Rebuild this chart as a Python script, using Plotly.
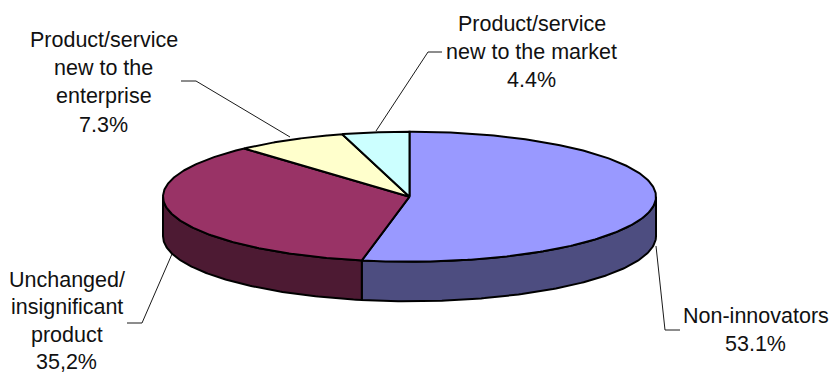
import numpy as np
import plotly.graph_objects as go

# Innovation categories, clockwise from twelve o'clock
categories = ["Non-innovators", "Unchanged/insignificant product",
              "Product/service new to the enterprise", "Product/service new to the market"]
shares = [53.1, 35.2, 7.3, 4.4]
top_colors = ["#9999FF", "#993366", "#FFFFCC", "#CCFFFF"]
side_colors = ["#4D4D80", "#4D1A33", "#808066", "#668080"]

label_lines = [
    ["Non-innovators", "53.1%"],
    ["Unchanged/", "insignificant", "product", "35,2%"],
    ["Product/service", "new to the", "enterprise", "7.3%"],
    ["Product/service", "new to the market", "4.4%"],
]

# Label block placement: centre x, first line y, line step
label_pos = [(755.5, 315.5, 28.4), (66.5, 279.5, 27.6), (103.5, 39.5, 28.4), (531.5, 23.5, 28.4)]
FONT_SIZE = 21.5

# Leader polylines, one per category
leaders = [
    ([656, 665, 680], [246, 330, 330]),
    ([172, 142, 127], [254, 323, 323]),
    ([290, 196, 181], [137, 81, 81]),
    ([376, 428, 442], [131, 52, 52]),
]

# Tilted disc geometry in screen pixels
CX, CY, RX, RY, DEPTH = 409.5, 196.7, 246.5, 65.0, 39.5
EDGE = dict(color="#000000", width=2)


def rim(t_deg):
    t = np.radians(t_deg)
    return CX + RX * np.sin(t), CY - RY * np.cos(t)


fig = go.Figure()


def add_poly(x, y, fill, line):
    fig.add_trace(go.Scatter(x=x, y=y, mode="lines", fill="toself", fillcolor=fill,
                             line=line, hoverinfo="skip", showlegend=False))


for lx, ly in leaders:
    fig.add_trace(go.Scatter(x=lx, y=ly, mode="lines", hoverinfo="skip", showlegend=False,
                             line=dict(color="#1a1a1a", width=1)))

# Slice angles from the values
edges = np.concatenate([[0], np.cumsum(shares)]) / sum(shares) * 360

# Outer walls: only the part of each slice on the front half of the disc
for start, end, color in zip(edges[:-1], edges[1:], side_colors):
    lo, hi = max(start, 90), min(end, 270)
    if hi <= lo:
        continue
    x, y = rim(np.linspace(lo, hi, 120))
    add_poly(np.concatenate([x, x[::-1], x[:1]]),
             np.concatenate([y, y[::-1] + DEPTH, y[:1]]), color, EDGE)

# Top faces
for start, end, color in zip(edges[:-1], edges[1:], top_colors):
    x, y = rim(np.linspace(start, end, 240))
    add_poly(np.concatenate([[CX], x, [CX]]), np.concatenate([[CY], y, [CY]]), color, EDGE)

annotations = []
for lines, (lx, ly, step) in zip(label_lines, label_pos):
    for i, text in enumerate(lines):
        annotations.append(dict(x=lx, y=ly + i * step, text=text, showarrow=False,
                                xanchor="center", yanchor="middle", xref="x", yref="y",
                                font=dict(family="Liberation Sans, Arial, sans-serif",
                                          size=FONT_SIZE, color="#111111")))

fig.update_layout(
    width=829, height=374, margin=dict(l=0, r=0, t=0, b=0),
    paper_bgcolor="white", plot_bgcolor="white", showlegend=False,
    annotations=annotations,
    xaxis=dict(range=[0, 829], visible=False, fixedrange=True),
    yaxis=dict(range=[374, 0], visible=False, fixedrange=True),
)

fig.write_html("out.html", config={"displayModeBar": False})
